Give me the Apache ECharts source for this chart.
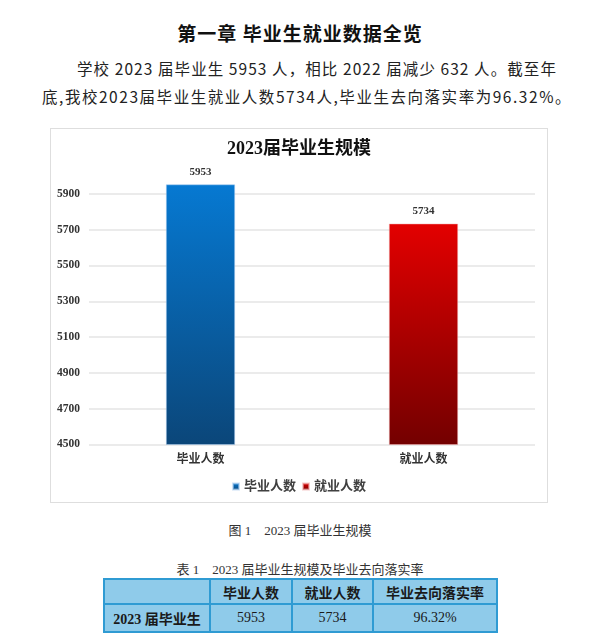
<!DOCTYPE html>
<html>
<head>
<meta charset="utf-8">
<script src="https://cdn.jsdelivr.net/npm/echarts@6/dist/echarts.min.js"></script>
<style>
  html, body { margin: 0; padding: 0; background: #fff; }
  body { width: 612px; height: 644px; position: relative; overflow: hidden;
         font-family: "Liberation Serif", "Noto Sans CJK SC", serif; color: #1a1a1a; }
  .abs { position: absolute; white-space: nowrap; }
  #h1 { left: 0; width: 600px; top: 19px; text-align: center; font-size: 19px; font-weight: bold;
        font-family: "Noto Sans CJK SC"; letter-spacing: 1px; color: #111; }
  .para { font-family: "Noto Sans CJK SC"; font-size: 15.5px; color: #222; line-height: 20px; }
  #chartBorder { left: 50px; top: 128px; width: 498px; height: 375px; box-sizing: border-box;
                 border: 1.5px solid #dedede; pointer-events: none; }
  #chart { left: 50px; top: 128px; width: 498px; height: 375px; }
  .cap { left: 0; width: 600px; text-align: center; font-size: 13px; color: #333; }
  table { position: absolute; left: 103px; top: 578px; border-collapse: collapse;
          background: #8fcbea; font-size: 14px; color: #1a1a1a; }
  td { border: 2px solid #2f9bd3; text-align: center; padding: 0; }
  .hd { font-family: "Liberation Serif", "Noto Sans CJK SC"; font-weight: bold; }
</style>
</head>
<body>
<div id="h1" class="abs">第一章 毕业生就业数据全览</div>
<div id="p1" class="abs para" style="left:77px; top:58px;">学校 2023 届毕业生 5953 人，相比 2022 届减少 632 人。截至年</div>
<div id="p2" class="abs para" style="left:42px; top:86px;">底,我校2023届毕业生就业人数5734人,毕业生去向落实率为96.32%。</div>
<div id="chart" class="abs"></div>
<div id="chartBorder" class="abs"></div>
<div class="abs cap" style="top:520px;">图 1　2023 届毕业生规模</div>
<div class="abs cap" style="top:559px;">表 1　2023 届毕业生规模及毕业去向落实率</div>
<table>
  <tr style="height:25px;">
    <td style="width:104px;"></td>
    <td class="hd" style="width:80px;">毕业人数</td>
    <td class="hd" style="width:79px;">就业人数</td>
    <td class="hd" style="width:122px;">毕业去向落实率</td>
  </tr>
  <tr style="height:28px;">
    <td class="hd">2023 届毕业生</td>
    <td>5953</td>
    <td>5734</td>
    <td>96.32%</td>
  </tr>
</table>
<script>
// ---- data ----
const categories = ['毕业人数', '就业人数'];
const graduates = [5953, null];
const employed = [null, 5734];
const seriesNames = ['毕业人数', '就业人数'];
const yTicks = [4500, 4700, 4900, 5100, 5300, 5500, 5700, 5900];
const chartTitle = '2023届毕业生规模';

// fit paragraph lines to their reference widths
function fit(id, w) {
  const el = document.getElementById(id);
  const n = el.textContent.length;
  const w0 = el.getBoundingClientRect().width;
  el.style.letterSpacing = ((w - w0) / n) + 'px';
}
fit('p1', 480);
fit('p2', 530);

const chart = echarts.init(document.getElementById('chart'), null, { renderer: 'canvas' });
const serif = '"Liberation Serif", "Noto Sans CJK SC", serif';
function grad(top, bottom) {
  return new echarts.graphic.LinearGradient(0, 0, 0, 1, [
    { offset: 0, color: top }, { offset: 1, color: bottom }
  ]);
}
chart.setOption({
  animation: false,
  title: {
    text: chartTitle, left: 'center', top: 7,
    textStyle: { fontFamily: serif, fontSize: 18, fontWeight: 'bold', color: '#111' }
  },
  legend: {
    data: seriesNames, bottom: 5, left: 'center', itemWidth: 6, itemHeight: 6, itemGap: 6,
    icon: 'rect',
    textStyle: { fontFamily: serif, fontSize: 13, fontWeight: 'bold', color: '#404040' }
  },
  grid: { left: 39, right: 13, top: 48, bottom: 58.5 },
  xAxis: {
    type: 'category', data: categories,
    axisLine: { show: false }, axisTick: { show: false },
    axisLabel: { margin: 9, fontFamily: serif, fontSize: 12, fontWeight: 'bold', color: '#333' }
  },
  yAxis: {
    type: 'value', min: 4500, max: 6000, interval: 100,
    splitLine: { show: false }, axisLine: { show: false }, axisTick: { show: false },
    axisLabel: {
      margin: 9, fontFamily: serif, fontSize: 11.5, fontWeight: 'bold', color: '#333',
      formatter: v => (yTicks.indexOf(v) >= 0 ? String(v) : '')
    }
  },
  series: [
    {
      name: seriesNames[0], type: 'bar', data: graduates, barWidth: '31%', barGap: '-100%',
      itemStyle: { color: grad('#0679d2', '#0b4679'), borderColor: 'rgba(170,205,240,0.6)', borderWidth: 0.8 },
      label: { show: true, position: 'top', distance: 7, fontFamily: serif, fontSize: 11, fontWeight: 'bold', color: '#333' },
      markLine: {
        silent: true, symbol: 'none', label: { show: false }, z: 1,
        lineStyle: { color: '#e4e4e4', width: 1.5, type: 'solid' },
        data: yTicks.map(t => ({ yAxis: t }))
      },
      z: 3
    },
    {
      name: seriesNames[1], type: 'bar', data: employed, barWidth: '31%',
      itemStyle: { color: grad('#e30000', '#730000'), borderColor: 'rgba(240,170,170,0.6)', borderWidth: 0.8 },
      label: { show: true, position: 'top', distance: 7, fontFamily: serif, fontSize: 11, fontWeight: 'bold', color: '#333' },
      z: 3
    }
  ]
});
</script>
</body>
</html>
